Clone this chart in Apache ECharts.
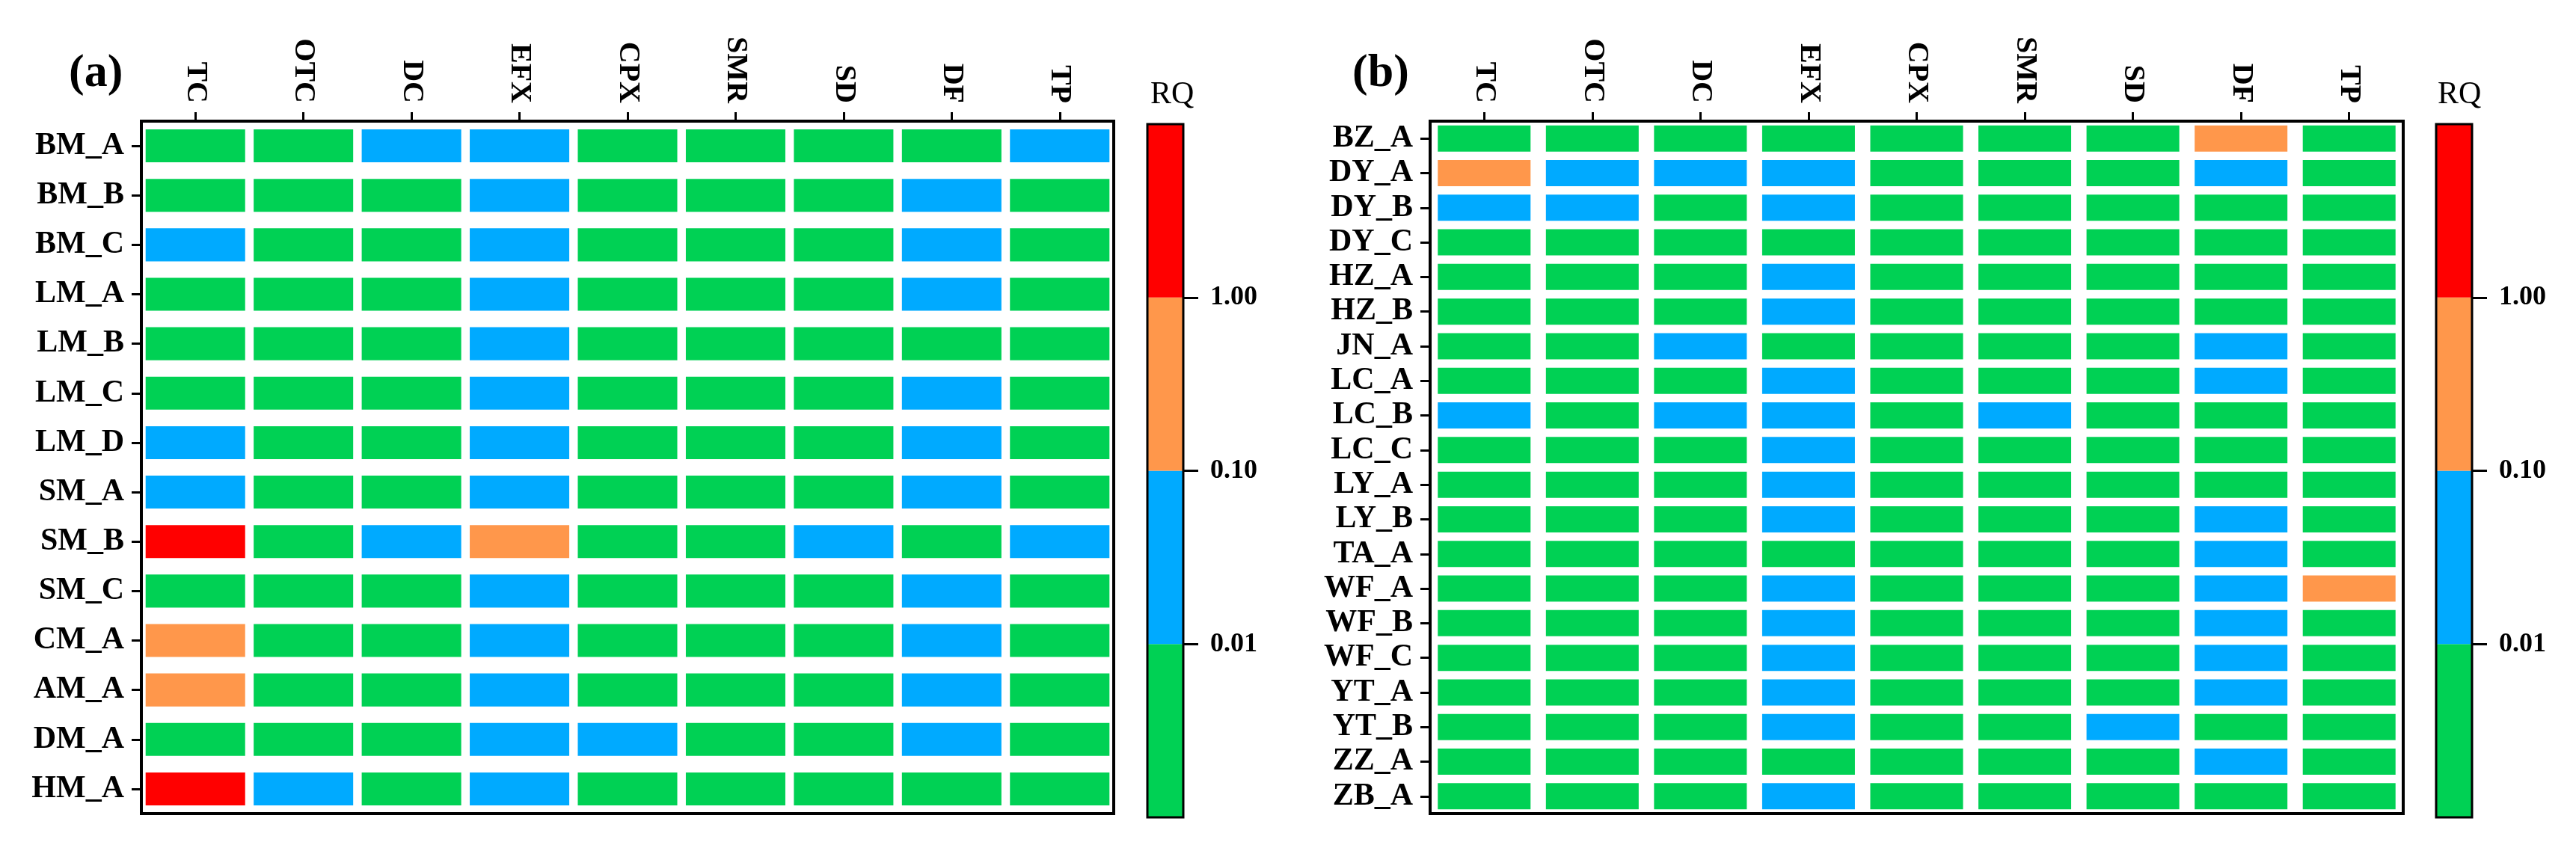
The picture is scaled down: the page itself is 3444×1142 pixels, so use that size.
<!DOCTYPE html>
<html>
<head>
<meta charset="utf-8">
<script src="https://cdn.jsdelivr.net/npm/echarts@6/dist/echarts.min.js"></script>
<style>html,body{margin:0;padding:0;background:#fff}#c{width:3444px;height:1142px}</style>
</head>
<body>
<div id="c"></div>
<script>
// ---------- data ----------
const cols = ['TC', 'OTC', 'DC', 'EFX', 'CPX', 'SMR', 'SD', 'DF', 'TP'];
const rowsA = ['BM_A','BM_B','BM_C','LM_A','LM_B','LM_C','LM_D','SM_A','SM_B','SM_C','CM_A','AM_A','DM_A','HM_A'];
const rowsB = ['BZ_A','DY_A','DY_B','DY_C','HZ_A','HZ_B','JN_A','LC_A','LC_B','LC_C','LY_A','LY_B','TA_A','WF_A','WF_B','WF_C','YT_A','YT_B','ZZ_A','ZB_A'];
// RQ values (estimated from colour class: <0.01, 0.01-0.1, 0.1-1, >1)
const rqA = [
  [0.005,0.005,0.05,0.05,0.005,0.005,0.005,0.005,0.05],
  [0.005,0.005,0.005,0.05,0.005,0.005,0.005,0.05,0.005],
  [0.05,0.005,0.005,0.05,0.005,0.005,0.005,0.05,0.005],
  [0.005,0.005,0.005,0.05,0.005,0.005,0.005,0.05,0.005],
  [0.005,0.005,0.005,0.05,0.005,0.005,0.005,0.005,0.005],
  [0.005,0.005,0.005,0.05,0.005,0.005,0.005,0.05,0.005],
  [0.05,0.005,0.005,0.05,0.005,0.005,0.005,0.05,0.005],
  [0.05,0.005,0.005,0.05,0.005,0.005,0.005,0.05,0.005],
  [2.0,0.005,0.05,0.5,0.005,0.005,0.05,0.005,0.05],
  [0.005,0.005,0.005,0.05,0.005,0.005,0.005,0.05,0.005],
  [0.5,0.005,0.005,0.05,0.005,0.005,0.005,0.05,0.005],
  [0.5,0.005,0.005,0.05,0.005,0.005,0.005,0.05,0.005],
  [0.005,0.005,0.005,0.05,0.05,0.005,0.005,0.05,0.005],
  [2.0,0.05,0.005,0.05,0.005,0.005,0.005,0.005,0.005]
];
const rqB = [
  [0.005,0.005,0.005,0.005,0.005,0.005,0.005,0.5,0.005],
  [0.5,0.05,0.05,0.05,0.005,0.005,0.005,0.05,0.005],
  [0.05,0.05,0.005,0.05,0.005,0.005,0.005,0.005,0.005],
  [0.005,0.005,0.005,0.005,0.005,0.005,0.005,0.005,0.005],
  [0.005,0.005,0.005,0.05,0.005,0.005,0.005,0.005,0.005],
  [0.005,0.005,0.005,0.05,0.005,0.005,0.005,0.005,0.005],
  [0.005,0.005,0.05,0.005,0.005,0.005,0.005,0.05,0.005],
  [0.005,0.005,0.005,0.05,0.005,0.005,0.005,0.05,0.005],
  [0.05,0.005,0.05,0.05,0.005,0.05,0.005,0.005,0.005],
  [0.005,0.005,0.005,0.05,0.005,0.005,0.005,0.005,0.005],
  [0.005,0.005,0.005,0.05,0.005,0.005,0.005,0.005,0.005],
  [0.005,0.005,0.005,0.05,0.005,0.005,0.005,0.05,0.005],
  [0.005,0.005,0.005,0.005,0.005,0.005,0.005,0.05,0.005],
  [0.005,0.005,0.005,0.05,0.005,0.005,0.005,0.05,0.5],
  [0.005,0.005,0.005,0.05,0.005,0.005,0.005,0.05,0.005],
  [0.005,0.005,0.005,0.05,0.005,0.005,0.005,0.05,0.005],
  [0.005,0.005,0.005,0.05,0.005,0.005,0.005,0.05,0.005],
  [0.005,0.005,0.005,0.05,0.005,0.005,0.05,0.005,0.005],
  [0.005,0.005,0.005,0.005,0.005,0.005,0.005,0.05,0.005],
  [0.005,0.005,0.005,0.05,0.005,0.005,0.005,0.005,0.005]
];
const levelBreaks = [0.01, 0.1, 1];
const levelTicks = ['0.01', '0.10', '1.00'];
const levelColors = ['#00D154', '#00AAFF', '#FF974B', '#FF0000'];

// ---------- chart ----------
const FONT = '"Liberation Serif","Times New Roman",serif';
const chart = echarts.init(document.getElementById('c'), null, {renderer: 'canvas'});

function cellData(rq) {
  const d = [];
  rq.forEach((row, r) => row.forEach((v, c) => d.push([c, r, v])));
  return d;
}
function makeRender(fw, fh) {
  return function (params, api) {
    const c = api.coord([api.value(0), api.value(1)]);
    const s = api.size([1, 1]);
    const w = s[0] * fw, h = s[1] * fh;
    return {type: 'rect', shape: {x: c[0] - w / 2, y: c[1] - h / 2, width: w, height: h},
            style: {fill: api.visual('color')}};
  };
}
function heatX(gi) {
  return {gridIndex: gi, type: 'category', data: cols, position: 'top',
    axisLine: {show: true, lineStyle: {color: '#000', width: 4}},
    axisTick: {show: true, alignWithLabel: true, interval: 0, length: 12, lineStyle: {color: '#000', width: 3}},
    axisLabel: {interval: 0, rotate: 90, fontSize: 40, fontWeight: 'bold', fontFamily: FONT, color: '#000', margin: 24},
    splitLine: {show: false}};
}
function heatY(gi, rows) {
  return {gridIndex: gi, type: 'category', data: rows, inverse: true,
    axisLine: {show: true, lineStyle: {color: '#000', width: 4}},
    axisTick: {show: true, alignWithLabel: true, interval: 0, length: 13, lineStyle: {color: '#000', width: 3}},
    axisLabel: {interval: 0, fontSize: 42, fontWeight: 'bold', fontFamily: FONT, color: '#000', margin: 23},
    splitLine: {show: false}};
}
function cbX(gi) {
  return {gridIndex: gi, type: 'category', data: ['RQ'], show: false};
}
function cbY(gi) {
  return {gridIndex: gi, type: 'value', min: 0, max: 4, interval: 1, position: 'right',
    axisLine: {show: false}, splitLine: {show: false},
    axisTick: {show: true, length: 20, customValues: [1, 2, 3], lineStyle: {color: '#000', width: 3}},
    axisLabel: {customValues: [1, 2, 3], formatter: v => levelTicks[v - 1] || '',
      fontSize: 36, fontWeight: 'bold', fontFamily: FONT, color: '#000', margin: 36}};
}
function cbSeries(gi, stack) {
  return levelColors.map(col => ({type: 'bar', xAxisIndex: gi, yAxisIndex: gi, stack: stack,
    data: [1], barWidth: '100%', itemStyle: {color: col}, silent: true, z: 1}));
}

const option = {
  backgroundColor: '#fff',
  animation: false,
  grid: [
    {left: 189, top: 162, width: 1300, height: 926, show: true, borderColor: '#000', borderWidth: 4, backgroundColor: 'rgba(0,0,0,0)', z: 10},
    {left: 1534, top: 166, width: 48, height: 927, show: true, borderColor: '#000', borderWidth: 3, backgroundColor: 'rgba(0,0,0,0)', z: 10},
    {left: 1912, top: 162, width: 1301, height: 926, show: true, borderColor: '#000', borderWidth: 4, backgroundColor: 'rgba(0,0,0,0)', z: 10},
    {left: 3257, top: 166, width: 48, height: 927, show: true, borderColor: '#000', borderWidth: 3, backgroundColor: 'rgba(0,0,0,0)', z: 10}
  ],
  xAxis: [heatX(0), cbX(1), heatX(2), cbX(3)],
  yAxis: [heatY(0, rowsA), cbY(1), heatY(2, rowsB), cbY(3)],
  visualMap: {
    type: 'piecewise', show: false, seriesIndex: [0, 1], dimension: 2,
    pieces: [
      {lt: levelBreaks[0], color: levelColors[0]},
      {gte: levelBreaks[0], lt: levelBreaks[1], color: levelColors[1]},
      {gte: levelBreaks[1], lt: levelBreaks[2], color: levelColors[2]},
      {gte: levelBreaks[2], color: levelColors[3]}
    ]
  },
  series: [
    {type: 'custom', xAxisIndex: 0, yAxisIndex: 0, data: cellData(rqA), renderItem: makeRender(0.921, 0.666), encode: {x: 0, y: 1}, silent: true},
    {type: 'custom', xAxisIndex: 2, yAxisIndex: 2, data: cellData(rqB), renderItem: makeRender(0.858, 0.756), encode: {x: 0, y: 1}, silent: true}
  ].concat(cbSeries(1, 'cbA'), cbSeries(3, 'cbB')),
  graphic: [
    {type: 'text', left: 92, top: 68, style: {text: '(a)', font: 'bold 62px ' + FONT, fill: '#000'}},
    {type: 'text', left: 1808, top: 68, style: {text: '(b)', font: 'bold 62px ' + FONT, fill: '#000'}},
    {type: 'text', left: 1538, top: 106, style: {text: 'RQ', font: '42px ' + FONT, fill: '#000'}},
    {type: 'text', left: 3259, top: 106, style: {text: 'RQ', font: '42px ' + FONT, fill: '#000'}}
  ]
};
chart.setOption(option);
</script>
</body>
</html>
